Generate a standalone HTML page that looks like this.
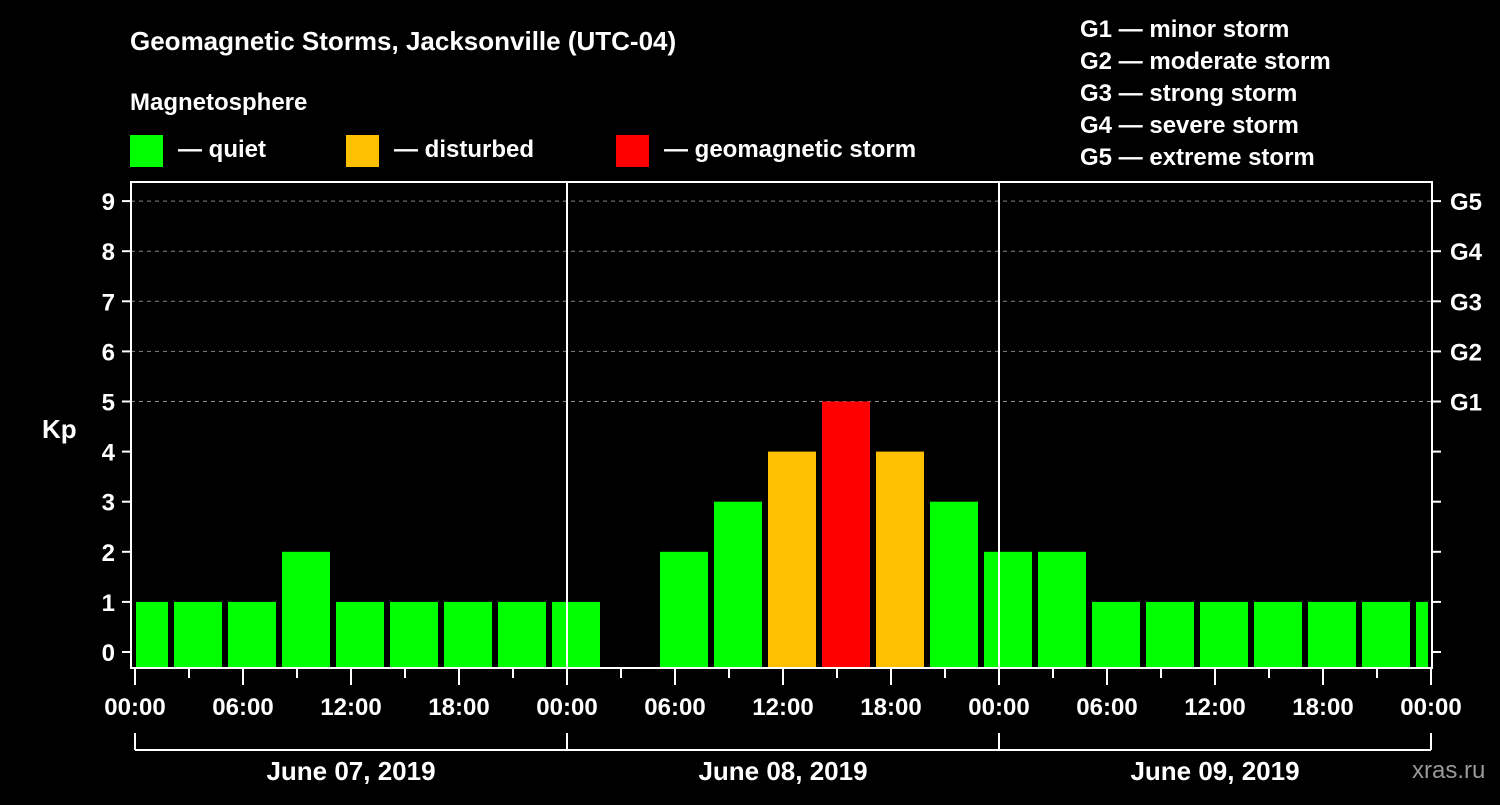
<!DOCTYPE html>
<html><head><meta charset="utf-8"><style>
body{margin:0;background:#000;width:1500px;height:800px;overflow:hidden}
svg text{font-family:"Liberation Sans",sans-serif;font-weight:bold;fill:#fff}
</style></head><body>
<svg id="c" width="1500" height="800">
<text x="130" y="50" font-size="26">Geomagnetic Storms, Jacksonville (UTC-04)</text>
<text x="130" y="110" font-size="24">Magnetosphere</text>
<g><rect x="130" y="135" width="33" height="32" fill="#00ff00"/><text x="178" y="157" font-size="24">— quiet</text></g>
<g><rect x="346" y="135" width="33" height="32" fill="#ffc000"/><text x="394" y="157" font-size="24">— disturbed</text></g>
<g><rect x="616" y="135" width="33" height="32" fill="#ff0000"/><text x="664" y="157" font-size="24">— geomagnetic storm</text></g>
<g font-size="24">
<text x="1080" y="37">G1 — minor storm</text><text x="1080" y="69">G2 — moderate storm</text><text x="1080" y="101">G3 — strong storm</text><text x="1080" y="133">G4 — severe storm</text><text x="1080" y="165">G5 — extreme storm</text></g>
<text x="42" y="438" font-size="26">Kp</text>
<text x="1412" y="778" font-size="24" fill="#888" style="fill:#999;font-weight:normal">xras.ru</text>
<g id="grid"></g><g id="bars"></g><g id="axes"></g>
</svg>
<script>
const slotStartHours=[-1,2,5,8,11,14,17,20,23,26,29,32,35,38,41,44,47,50,53,56,59,62,65,68,71];
const kpValues=[1,1,1,2,1,1,1,1,1,null,2,3,4,5,4,3,2,2,1,1,1,1,1,1,1];
const yTicks=[0,1,2,3,4,5,6,7,8,9];
const gLabels=["G1","G2","G3","G4","G5"];
const xTickLabels=["00:00","06:00","12:00","18:00","00:00","06:00","12:00","18:00","00:00","06:00","12:00","18:00","00:00"];
const dayLabels=["June 07, 2019","June 08, 2019","June 09, 2019"];
const NS="http://www.w3.org/2000/svg";
const L=131,R=1432,T=182,B=668,X0=135;
const x=h=>X0+h*18;
const y=v=>652-v*50.1;
function mk(p,tag,a){const e=document.createElementNS(NS,tag);for(const k in a)e.setAttribute(k,a[k]);p.appendChild(e);return e;}
const grid=document.getElementById('grid'),bars=document.getElementById('bars'),axes=document.getElementById('axes');
[5,6,7,8,9].forEach(v=>{const l=mk(grid,'line',{x1:L,x2:R,y1:y(v),y2:y(v),stroke:'#888','stroke-dasharray':'4,4'});

});
kpValues.forEach((v,i)=>{if(v===null)return;
const a=Math.max(x(slotStartHours[i])+3,L+5),b=Math.min(x(slotStartHours[i]+3)-3,R-4);
const col=v>=5?'#ff0000':v>=4?'#ffc000':'#00ff00';
const r=mk(bars,'rect',{x:a,y:y(v),width:b-a,height:B-y(v),fill:col});

});
mk(axes,'rect',{x:L,y:T,width:R-L,height:B-T,fill:'none',stroke:'#fff','stroke-width':2});
[24,48].forEach(h=>mk(axes,'line',{x1:x(h),x2:x(h),y1:T,y2:B,stroke:'#fff','stroke-width':2}));
yTicks.forEach(v=>{mk(axes,'line',{x1:122,x2:L,y1:y(v),y2:y(v),stroke:'#fff','stroke-width':2});
mk(axes,'line',{x1:R,x2:1441,y1:y(v),y2:y(v),stroke:'#fff','stroke-width':2});
const t=mk(axes,'text',{x:115,y:y(v)+9,'font-size':24,'text-anchor':'end'});t.textContent=v;

});
gLabels.forEach((g,i)=>{const t=mk(axes,'text',{x:1450,y:y(5+i)+9,'font-size':24});t.textContent=g;

});
for(let h=0;h<=72;h+=3){mk(axes,'line',{x1:x(h),x2:x(h),y1:B,y2:h%6==0?685:678,stroke:'#fff','stroke-width':2});}
xTickLabels.forEach((s,i)=>{const t=mk(axes,'text',{x:x(i*6),y:715,'font-size':24,'text-anchor':'middle'});t.textContent=s;

});
mk(axes,'line',{x1:x(0),x2:x(72),y1:750,y2:750,stroke:'#fff','stroke-width':2});
[0,24,48,72].forEach(h=>mk(axes,'line',{x1:x(h),x2:x(h),y1:733,y2:750,stroke:'#fff','stroke-width':2}));
dayLabels.forEach((d,i)=>{const t=mk(axes,'text',{x:x(i*24+12),y:780,'font-size':26,'text-anchor':'middle'});t.textContent=d;

});
</script>
</body></html>
